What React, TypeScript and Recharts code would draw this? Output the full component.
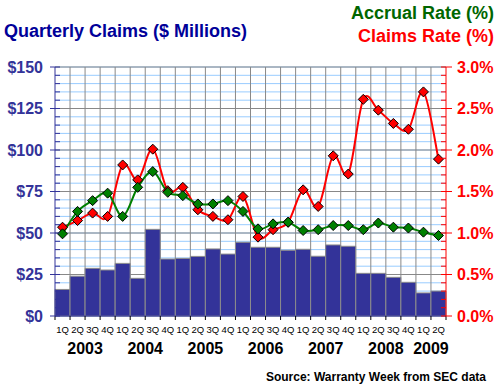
import React from 'react';
import { ComposedChart, Bar, Line, XAxis, YAxis, CartesianGrid } from 'recharts';

const quarters = ['1Q','2Q','3Q','4Q','1Q','2Q','3Q','4Q','1Q','2Q','3Q','4Q','1Q','2Q','3Q','4Q','1Q','2Q','3Q','4Q','1Q','2Q','3Q','4Q','1Q','2Q'];
const years = ['2003','2003','2003','2003','2004','2004','2004','2004','2005','2005','2005','2005','2006','2006','2006','2006','2007','2007','2007','2007','2008','2008','2008','2008','2009','2009'];
const claims = [16, 24, 28.7, 27.7, 31.7, 22.7, 52.2, 34.3, 34.7, 35.9, 40.4, 37.3, 44.4, 41.4, 41.4, 39.6, 40.2, 36, 42.8, 42, 25.7, 25.7, 23.3, 20.3, 13.9, 15];
const claimsRate = [1.07, 1.15, 1.24, 1.20, 1.82, 1.64, 2.01, 1.51, 1.55, 1.28, 1.20, 1.16, 1.44, 0.95, 1.04, 1.13, 1.52, 1.32, 1.93, 1.71, 2.61, 2.48, 2.32, 2.25, 2.70, 1.89];
const accrualRate = [0.99, 1.26, 1.39, 1.48, 1.20, 1.55, 1.74, 1.49, 1.45, 1.35, 1.35, 1.39, 1.26, 1.05, 1.11, 1.13, 1.03, 1.04, 1.09, 1.09, 1.04, 1.12, 1.07, 1.06, 1.01, 0.97];

const leftTicks = [0,5,10,15,20,25,30,35,40,45,50,55,60,65,70,75,80,85,90,95,100,105,110,115,120,125,130,135,140,145,150];
const leftMajor = [0,25,50,75,100,125,150];
const rightTicks = [0,0.1,0.2,0.3,0.4,0.5,0.6,0.7,0.8,0.9,1.0,1.1,1.2,1.3,1.4,1.5,1.6,1.7,1.8,1.9,2.0,2.1,2.2,2.3,2.4,2.5,2.6,2.7,2.8,2.9,3.0];

const data = quarters.map((q, i) => ({
  q, year: years[i], claims: claims[i], claimsRate: claimsRate[i], accrualRate: accrualRate[i],
}));

const W = 500, H = 388;
const M = { top: 67, right: 0, bottom: 22, left: 0 };
const LEFT_W = 55, RIGHT_W = 54;
const PLOT_W = W - LEFT_W - RIGHT_W;
const BW = PLOT_W / data.length;
const FONT = '"Liberation Sans", Arial, Helvetica, sans-serif';

const catmull = (context: any) => {
  let pts: number[][] = [];
  return {
    areaStart() {}, areaEnd() {},
    lineStart() { pts = []; },
    lineEnd() {
      if (!pts.length) return;
      context.moveTo(pts[0][0], pts[0][1]);
      for (let i = 0; i < pts.length - 1; i++) {
        const p0 = pts[i - 1] || pts[i];
        const p1 = pts[i];
        const p2 = pts[i + 1];
        const p3 = pts[i + 2] || p2;
        context.bezierCurveTo(
          p1[0] + (p2[0] - p0[0]) / 6, p1[1] + (p2[1] - p0[1]) / 6,
          p2[0] - (p3[0] - p1[0]) / 6, p2[1] - (p3[1] - p1[1]) / 6,
          p2[0], p2[1]
        );
      }
    },
    point(x: number, y: number) { pts.push([+x, +y]); },
  };
};

const diamond = (fill: string) => (props: any) => {
  const { cx, cy, index } = props;
  if (cx == null || cy == null) return <g key={index} />;
  const r = 5;
  return (
    <polygon key={index} points={`${cx},${cy - r} ${cx + r},${cy} ${cx},${cy + r} ${cx - r},${cy}`}
      fill={fill} stroke="#000" strokeWidth={1} />
  );
};

const XTick = (props: any) => {
  const { x, y, payload, index } = props;
  const d = data[index];
  const firstOfYear = index === 0 || data[index - 1].year !== d.year;
  const n = data.filter((e) => e.year === d.year).length;
  const isLast = index === data.length - 1;
  return (
    <g>
      <line x1={x - BW / 2} x2={x - BW / 2} y1={y} y2={y + 4} stroke="#000" />
      {isLast && <line x1={x + BW / 2} x2={x + BW / 2} y1={y} y2={y + 4} stroke="#000" />}
      <text x={x} y={y + 16.5} textAnchor="middle" fontSize={9.5} fontFamily={FONT} fill="#000">{payload.value}</text>
      {firstOfYear && (
        <text x={x - BW / 2 + (n * BW) / 2} y={y + 37.5} textAnchor="middle" fontSize={16} fontWeight="bold" fontFamily={FONT} fill="#000">{d.year}</text>
      )}
    </g>
  );
};

const LeftTick = (props: any) => {
  const { x, y, payload } = props;
  const major = leftMajor.includes(payload.value);
  return (
    <g>
      <line x1={major ? x - 5 : x} x2={x + 5} y1={y} y2={y} stroke="#333399" />
      {major && (
        <text x={x - 12} y={y + 5.5} textAnchor="end" fontSize={16} fontWeight="bold" fontFamily={FONT} fill="#333399">${payload.value}</text>
      )}
    </g>
  );
};

const RightTick = (props: any) => {
  const { x, y, payload } = props;
  const major = Math.round(payload.value * 10) % 5 === 0;
  return (
    <g>
      <line x1={x - 5} x2={major ? x + 6 : x} y1={y} y2={y} stroke="#ff0000" />
      {major && (
        <text x={x + 11} y={y + 5.5} textAnchor="start" fontSize={16} fontWeight="bold" fontFamily={FONT} fill="#ff0000">{payload.value.toFixed(1)}%</text>
      )}
    </g>
  );
};

const vertGen = ({ offset }: any) => {
  const pts: number[] = [];
  for (let i = 1; i < data.length; i++) pts.push(offset.left + (i * offset.width) / data.length);
  return pts;
};

export default function App() {
  return (
    <div style={{ position: 'absolute', left: 0, top: 0, width: W, height: H, background: '#fff' }}>
      <ComposedChart width={W} height={H} data={data} margin={M} barCategoryGap={0} barGap={0}>
        <CartesianGrid yAxisId="left" horizontalValues={leftTicks} stroke="#99ccff" vertical={false} />
        <CartesianGrid yAxisId="left" horizontalValues={leftMajor} stroke="#888888" verticalCoordinatesGenerator={vertGen} />
        <XAxis dataKey="q" interval={0} tick={<XTick />} tickLine={false} tickSize={0} tickMargin={0} height={50} axisLine={{ stroke: '#333399' }} />
        <YAxis yAxisId="left" domain={[0, 150]} ticks={leftTicks} interval={0} width={LEFT_W} tick={<LeftTick />} tickLine={false} tickSize={0} tickMargin={0} axisLine={{ stroke: '#333399' }} allowDataOverflow />
        <YAxis yAxisId="right" orientation="right" domain={[0, 3]} ticks={rightTicks} interval={0} width={RIGHT_W} tick={<RightTick />} tickLine={false} tickSize={0} tickMargin={0} axisLine={{ stroke: '#ff0000' }} allowDataOverflow />
        <Bar yAxisId="left" dataKey="claims" fill="#333399" stroke="#8c8c8c" strokeWidth={1} isAnimationActive={false} />
        <Line yAxisId="right" dataKey="claimsRate" type={catmull as any} stroke="#ff0000" strokeWidth={2} dot={diamond('#ff0000')} activeDot={false} isAnimationActive={false} />
        <Line yAxisId="right" dataKey="accrualRate" type={catmull as any} stroke="#008000" strokeWidth={2} dot={diamond('#008000')} activeDot={false} isAnimationActive={false} />
      </ComposedChart>
      <svg width={W} height={H} style={{ position: 'absolute', left: 0, top: 0, pointerEvents: 'none' }}>
        <text x={4} y={37} fontSize={18} fontWeight="bold" fontFamily={FONT} fill="#000099">Quarterly Claims ($ Millions)</text>
        <text x={494} y={19} textAnchor="end" fontSize={18} fontWeight="bold" fontFamily={FONT} fill="#006600">Accrual Rate (%)</text>
        <text x={494} y={42} textAnchor="end" fontSize={18} fontWeight="bold" fontFamily={FONT} fill="#ff0000">Claims Rate (%)</text>
        <text x={486} y={381} textAnchor="end" fontSize={12} fontWeight="bold" fontFamily={FONT} fill="#000">Source: Warranty Week from SEC data</text>
      </svg>
    </div>
  );
}
